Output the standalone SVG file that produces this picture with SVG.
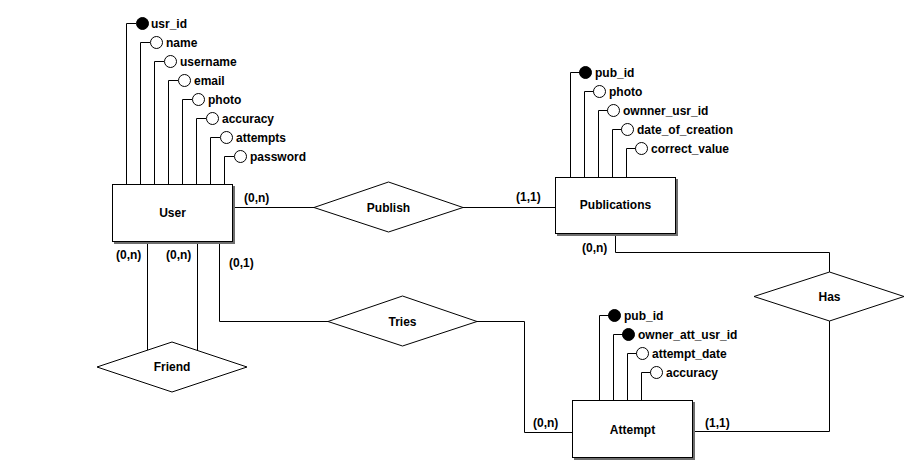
<svg xmlns="http://www.w3.org/2000/svg" width="908" height="463" viewBox="0 0 908 463">
  <style>
    text { font-family: "Liberation Sans", Arial, sans-serif; font-size: 12px; font-weight: bold; fill: #000; }
    .c { text-anchor: middle; }
    .ln { fill: none; stroke: #000; stroke-width: 1; }
    .box { fill: #fff; stroke: #000; stroke-width: 1; }
    .shadow { fill: #6e6e6e; }
    .rel { fill: #fff; stroke: #000; stroke-width: 1; }
    .key { fill: #000; stroke: #000; stroke-width: 1; }
    .att { fill: #fff; stroke: #000; stroke-width: 1; }
  </style>
  <rect width="908" height="463" fill="#fff"/>

  <!-- relationship connectors -->
  <g id="connectors">
    <path class="ln" d="M232,207.5 H314"/>
    <path class="ln" d="M463,207.5 H555"/>
    <path class="ln" d="M147.5,241 V350"/>
    <path class="ln" d="M197.5,241 V350"/>
    <path class="ln" d="M219.5,241 V321.5 H328"/>
    <path class="ln" d="M477,321.5 H524.5 V432.5 H572"/>
    <path class="ln" d="M615.5,233 V252.5 H829.5 V272"/>
    <path class="ln" d="M829.5,321 V431.5 H692"/>
    <text x="244" y="202">(0,n)</text>
    <text x="516" y="201">(1,1)</text>
    <text x="116" y="259">(0,n)</text>
    <text x="166" y="259">(0,n)</text>
    <text x="229" y="267">(0,1)</text>
    <text x="582" y="252">(0,n)</text>
    <text x="533" y="427">(0,n)</text>
    <text x="705" y="427">(1,1)</text>
  </g>

  <!-- entity: User -->
  <g id="user">
    <path class="ln" d="M126.5,184 V23.5 H136 M140.5,184 V42.5 H150 M154.5,184 V61.5 H164 M168.5,184 V80.5 H178 M182.5,184 V99.5 H192 M196.5,184 V118.5 H206 M210.5,184 V137.5 H220 M224.5,184 V156.5 H234"/>
    <circle class="key" cx="142.5" cy="23.5" r="6"/>
    <circle class="att" cx="156.5" cy="42.5" r="6"/>
    <circle class="att" cx="170.5" cy="61.5" r="6"/>
    <circle class="att" cx="184.5" cy="80.5" r="6"/>
    <circle class="att" cx="198.5" cy="99.5" r="6"/>
    <circle class="att" cx="212.5" cy="118.5" r="6"/>
    <circle class="att" cx="226.5" cy="137.5" r="6"/>
    <circle class="att" cx="240.5" cy="156.5" r="6"/>
    <text x="151" y="28">usr_id</text>
    <text x="166" y="47">name</text>
    <text x="180" y="66">username</text>
    <text x="194" y="85">email</text>
    <text x="208" y="104">photo</text>
    <text x="222" y="123">accuracy</text>
    <text x="236" y="142">attempts</text>
    <text x="250" y="161">password</text>
    <rect class="shadow" x="114" y="186" width="121" height="58"/>
    <rect class="box" x="112.5" y="184.5" width="120" height="57"/>
    <text class="c" x="172.5" y="217">User</text>
  </g>

  <!-- entity: Publications -->
  <g id="publications">
    <path class="ln" d="M570.5,177 V72.5 H580 M584.5,177 V91.5 H594 M598.5,177 V110.5 H608 M612.5,177 V129.5 H622 M626.5,177 V148.5 H636"/>
    <circle class="key" cx="585.5" cy="72.5" r="6"/>
    <circle class="att" cx="599.5" cy="91.5" r="6"/>
    <circle class="att" cx="613.5" cy="110.5" r="6"/>
    <circle class="att" cx="627.5" cy="129.5" r="6"/>
    <circle class="att" cx="641.5" cy="148.5" r="6"/>
    <text x="595" y="77">pub_id</text>
    <text x="609" y="96">photo</text>
    <text x="623" y="115">ownner_usr_id</text>
    <text x="637" y="134">date_of_creation</text>
    <text x="651" y="153">correct_value</text>
    <rect class="shadow" x="557" y="179" width="121" height="57"/>
    <rect class="box" x="555.5" y="177.5" width="120" height="56"/>
    <text class="c" x="615.5" y="209">Publications</text>
  </g>

  <!-- entity: Attempt -->
  <g id="attempt">
    <path class="ln" d="M599.5,400 V315.5 H609 M613.5,400 V334.5 H623 M627.5,400 V353.5 H637 M641.5,400 V372.5 H651"/>
    <circle class="key" cx="614.5" cy="315.5" r="6"/>
    <circle class="key" cx="628.5" cy="334.5" r="6"/>
    <circle class="att" cx="642.5" cy="353.5" r="6"/>
    <circle class="att" cx="656.5" cy="372.5" r="6"/>
    <text x="624" y="320">pub_id</text>
    <text x="638" y="339">owner_att_usr_id</text>
    <text x="652" y="358">attempt_date</text>
    <text x="666" y="377">accuracy</text>
    <rect class="shadow" x="574" y="402" width="121" height="58"/>
    <rect class="box" x="572.5" y="400.5" width="120" height="57"/>
    <text class="c" x="632.5" y="434">Attempt</text>
  </g>

  <!-- relationships -->
  <g id="publish">
    <polygon class="rel" points="314,207.5 388.5,182 463,207.5 388.5,232"/>
    <text class="c" x="388.5" y="212">Publish</text>
  </g>
  <g id="friend">
    <polygon class="rel" points="97,367 172,342 247,367 172,392"/>
    <text class="c" x="172" y="371">Friend</text>
  </g>
  <g id="tries">
    <polygon class="rel" points="328,321.5 402.5,296 477,321.5 402.5,346"/>
    <text class="c" x="402.5" y="326">Tries</text>
  </g>
  <g id="has">
    <polygon class="rel" points="754,296.5 829.5,272 904,296.5 829.5,321"/>
    <text class="c" x="829.5" y="301">Has</text>
  </g>
</svg>
